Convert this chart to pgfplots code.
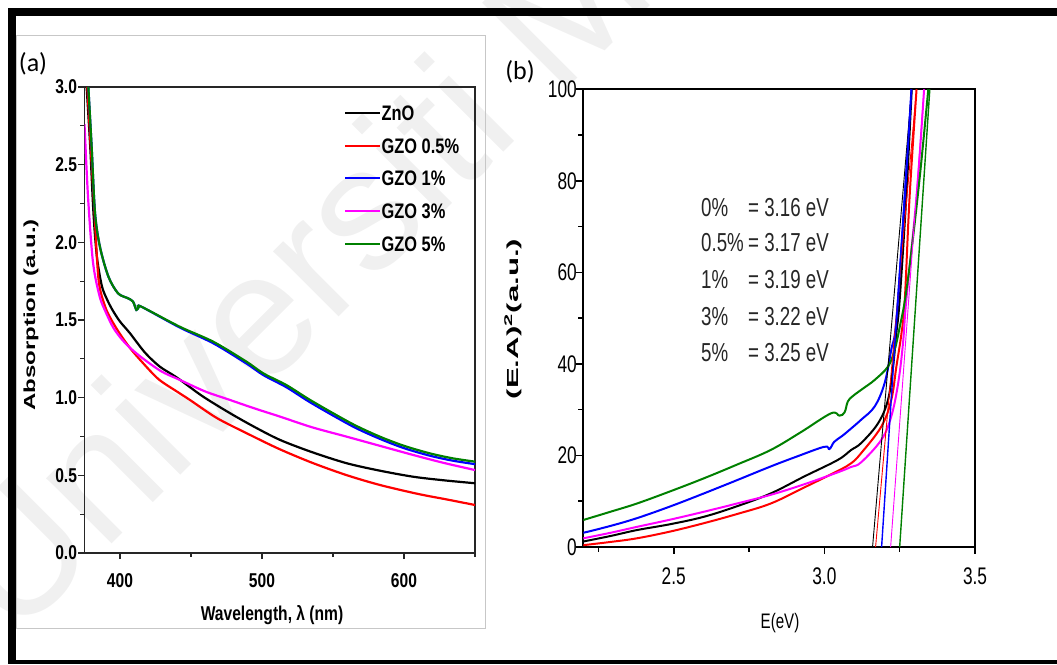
\documentclass[border=0pt]{standalone}
\usepackage{fontspec}
\usepackage{pgfplots}
\pgfplotsset{compat=1.18}
\setmainfont{Liberation Sans}
\newfontfamily\narrowbold{Liberation Sans}[FakeStretch=0.78, UprightFont={* Bold}]
\newfontfamily\narrowreg{Liberation Sans}[FakeStretch=0.72]
\newfontfamily\panelfont{Carlito}
\definecolor{cZnO}{rgb}{0,0,0}
\definecolor{cG05}{rgb}{1,0,0}
\definecolor{cG1}{rgb}{0,0,1}
\definecolor{cG3}{rgb}{1,0,1}
\definecolor{cG5}{rgb}{0,0.5,0}

\begin{document}
\begin{tikzpicture}[x=1pt,y=1pt]
\useasboundingbox (0,0) rectangle (1057,664);
% faint watermark
\begin{scope}
  \clip (0,0) rectangle (1057,664);
  \node[rotate=45, anchor=base west, inner sep=0pt, text=black!6,
        font=\fontsize{175}{175}\selectfont] at (14,22) {Universiti Malaya};
\end{scope}
% outer frame
\fill[black] (8,0) rectangle (16,656);
\fill[black] (8,648) rectangle (1057,656);
\fill[black] (8,0) rectangle (1057,4);
% panel (a) border
\draw[black!22, line width=0.8pt] (16,36) rectangle (485,629);

% ---------------- (a) absorption spectra ----------------
\begin{axis}[
  at={(84.5pt,111pt)}, anchor=south west, scale only axis,
  width=390.5pt, height=466pt,
  xmin=375, xmax=650, ymin=0, ymax=3,
  xtick={400,500,600}, minor xtick={450,550,650},
  ytick={0,0.5,...,3.0}, minor ytick={0.25,0.75,...,2.75},
  xtick pos=lower, ytick pos=left, tick align=outside,
  major tick length=6pt, minor tick length=4pt,
  axis line style={line width=1.6pt, black!85},
  every tick/.style={line width=1.3pt, black!85},
  yticklabel style={/pgf/number format/fixed, /pgf/number format/fixed zerofill,
                    /pgf/number format/precision=1, xshift=2pt},
  /pgf/number format/assume math mode=true,
  tick label style={font=\narrowbold\fontsize{20}{20}\selectfont},
  xticklabel style={yshift=-11pt},
  every axis plot/.append style={line width=2.2pt, smooth, tension=0.5},
  clip=true,
]
\addplot[cZnO] coordinates {
(376.5,3.0) (379,2.62) (381.3,2.19) (383.7,1.91) (387.2,1.72) (391,1.63)
(395,1.56) (400,1.49) (407,1.415) (417.6,1.29) (428,1.2) (440,1.13)
(458,1.01) (477.5,0.90) (495,0.81) (512.7,0.728) (535,0.65) (559.6,0.578)
(583,0.53) (606.5,0.491) (628,0.468) (650,0.449)};
\addplot[cG05] coordinates {
(377,3.0) (379.5,2.6) (382,2.2) (384.9,1.76) (389.4,1.59) (394,1.5)
(400,1.41) (407,1.32) (415,1.235) (427,1.12) (440,1.04) (449.3,0.985)
(468,0.87) (489.2,0.771) (512,0.67) (536.1,0.578) (560,0.5) (583,0.438)
(610,0.38) (630,0.345) (650,0.309)};
\addplot[cG1] coordinates {
(377.7,3.0) (380,2.62) (382.4,2.19) (385.9,1.97) (391.8,1.78) (398.6,1.672)
(405.6,1.64) (409.2,1.618) (411.5,1.565) (413,1.58) (415,1.586) (442,1.452)
(465.7,1.35) (489,1.22) (501,1.145) (517,1.068) (533,0.975) (550,0.885)
(566,0.805) (583,0.735) (600,0.675) (618,0.627) (634,0.595) (650,0.572)};
\addplot[cG3] coordinates {
(375,2.76) (377.5,2.29) (381,1.87) (385.7,1.65) (390,1.55) (395,1.455)
(400,1.39) (406,1.33) (415,1.26) (429,1.17) (442,1.115) (460,1.04)
(477.5,0.985) (495,0.93) (512.7,0.878) (535,0.81) (559.6,0.749) (583,0.69)
(606.5,0.631) (628,0.58) (650,0.534)};
\addplot[cG5] coordinates {
(377.7,3.0) (380,2.62) (382.4,2.19) (385.9,1.97) (391.8,1.78) (398.6,1.672)
(405.6,1.64) (409.2,1.618) (411.5,1.565) (413,1.58) (415,1.586) (442,1.457)
(465.7,1.36) (489,1.232) (501,1.156) (517,1.082) (533,0.99) (550,0.90)
(566,0.82) (583,0.749) (600,0.69) (618,0.642) (634,0.61) (650,0.588)};
\end{axis}

% ---------------- (b) Tauc plot ----------------
\begin{axis}[
  at={(583.3pt,117pt)}, anchor=south west, scale only axis,
  width=391.7pt, height=457.7pt,
  xmin=2.2, xmax=3.5, ymin=0, ymax=100,
  xtick={2.5,3.0,3.5}, minor xtick={2.25,2.75,3.25},
  ytick={0,20,...,100}, minor ytick={10,30,...,90},
  xtick pos=lower, ytick pos=left, tick align=outside,
  major tick length=7pt, minor tick length=5pt,
  axis line style={line width=2.2pt, black},
  every tick/.style={line width=1.6pt, black},
  xticklabel style={/pgf/number format/fixed, /pgf/number format/fixed zerofill,
                    /pgf/number format/precision=1, yshift=-10pt},
  /pgf/number format/assume math mode=true,
  tick label style={font=\narrowreg\fontsize{24}{24}\selectfont},
  yticklabel style={xshift=4pt},
  clip=true,
]
% Tauc curves
\addplot[cZnO, line width=2pt, smooth, tension=0.6] coordinates {
(2.2,1.2) (2.29,2.4) (2.378,3.7) (2.49,5.0) (2.6,6.6) (2.71,8.9) (2.822,11.7)
(2.933,15.4) (3.044,19.0) (3.089,21.2) (3.122,22.7) (3.178,27.0) (3.211,32.1)
(3.228,39.4) (3.239,46.7) (3.25,54) (3.272,76.6) (3.29,100)};
\addplot[cG05, line width=2pt, smooth, tension=0.6] coordinates {
(2.2,0.4) (2.29,1.1) (2.378,1.9) (2.49,3.4) (2.6,5.2) (2.71,7.2) (2.822,9.5)
(2.933,13.0) (3.044,16.6) (3.089,18.3) (3.122,20.5) (3.189,26.3) (3.222,32.1)
(3.239,39.4) (3.256,46.7) (3.267,54) (3.283,76.6) (3.306,100)};
\addplot[cG1, line width=2pt, smooth, tension=0.6] coordinates {
(2.2,3.1) (2.29,4.6) (2.378,6.3) (2.49,8.9) (2.6,11.7) (2.71,14.6) (2.822,17.6)
(2.91,19.8) (3.0,21.9) (3.017,21.4) (3.033,23.0) (3.06,24.3) (3.089,25.9)
(3.122,27.8) (3.167,30.7) (3.2,35.8) (3.222,43.1) (3.239,49.6) (3.267,76.6)
(3.289,100)};
\addplot[cG3, line width=2pt, smooth, tension=0.6] coordinates {
(2.2,1.9) (2.29,3.1) (2.378,4.4) (2.49,6.0) (2.6,7.7) (2.71,9.5) (2.822,11.4)
(2.933,13.7) (3.044,16.3) (3.089,17.5) (3.122,18.5) (3.189,23.4) (3.222,28.5)
(3.245,35.8) (3.261,44.5) (3.272,54) (3.306,76.6) (3.331,100)};
\addplot[cG5, line width=2pt, smooth, tension=0.6] coordinates {
(2.2,5.9) (2.29,7.7) (2.378,9.5) (2.49,12.2) (2.6,15.0) (2.71,18.0) (2.822,21.2)
(2.92,25) (3.022,29.2) (3.05,28.7) (3.067,29.4) (3.078,31.8) (3.095,33.0)
(3.13,34.7) (3.167,36.5) (3.211,39.4) (3.233,43) (3.25,48) (3.27,55)
(3.295,68) (3.32,83) (3.345,100)};
% band-gap extrapolations
\addplot[cZnO, line width=0.9pt] coordinates {(3.16,0) (3.29,100)};
\addplot[cG05, line width=0.9pt] coordinates {(3.17,0) (3.306,100)};
\addplot[cG1, line width=1.4pt] coordinates {(3.19,0) (3.289,100)};
\addplot[cG3, line width=0.9pt] coordinates {(3.22,0) (3.331,100)};
\addplot[cG5, line width=1.4pt] coordinates {(3.25,0) (3.35,100)};
\end{axis}

% axis titles and panel tags
\node[font=\panelfont\fontsize{26}{26}\selectfont] at (33,600) {(a)};
\node[font=\panelfont\fontsize{26}{26}\selectfont] at (520,592) {(b)};
\node[rotate=90, font=\bfseries\fontsize{16}{16}\selectfont] at (31,349)
  {\scalebox{1.5}[1]{Absorption (a.u.)}};
\node[font=\narrowbold\fontsize{20}{20}\selectfont] at (272,49) {Wavelength, λ (nm)};
\node[rotate=90, font=\bfseries\fontsize{16}{16}\selectfont] at (513,345)
  {\scalebox{1.95}[1]{(E.A)\textsuperscript{2}(a.u.)}};
\node[font=\narrowreg\fontsize{21}{21}\selectfont] at (780,41) {E(eV)};

% legend of (a)
\begin{scope}[font=\narrowbold\fontsize{21}{21}\selectfont]
\foreach \yy/\cc/\tt in {551/cZnO/ZnO, 518/cG05/GZO 0.5\%, 486/cG1/GZO 1\%,
                          453/cG3/GZO 3\%, 420/cG5/GZO 5\%}{
  \draw[\cc, line width=2.2pt] (345,\yy) -- (380,\yy);
  \node[anchor=west, inner sep=1pt] at (380.5,\yy) {\tt};
}
\end{scope}

% band-gap values in (b)
\begin{scope}[font=\narrowreg\fontsize{26}{26}\selectfont, black!85]
\foreach \yy/\aa/\bb in {456/0\%/3.16, 421/0.5\%/3.17, 384/1\%/3.19,
                          347/3\%/3.22, 311/5\%/3.25}{
  \node[anchor=west, inner sep=0pt] at (701,\yy) {\aa};
  \node[anchor=west, inner sep=0pt] at (748,\yy) {= \bb\ eV};
}
\end{scope}
\end{tikzpicture}
\end{document}
